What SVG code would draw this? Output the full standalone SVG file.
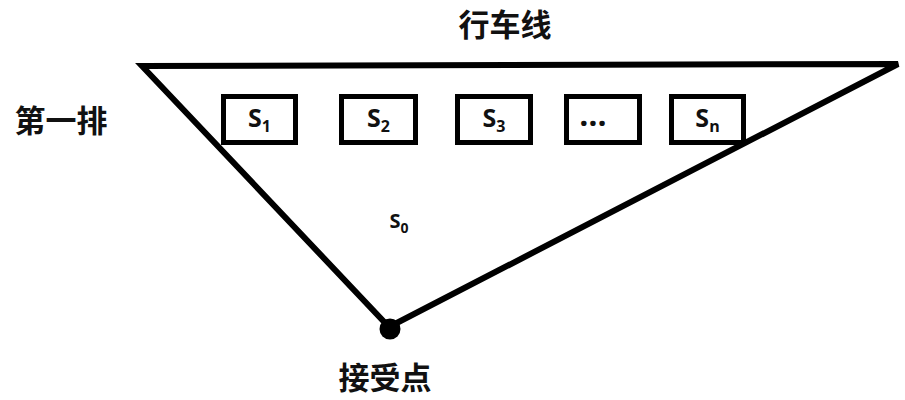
<svg xmlns="http://www.w3.org/2000/svg" width="905" height="400" viewBox="0 0 905 400">
<style>
.cjk{font-family:"Noto Sans CJK SC","Noto Sans CJK JP",sans-serif;font-weight:bold;font-size:31px;fill:#111}
.lbl{font-family:"Open Sans","Liberation Sans",sans-serif;font-weight:bold;fill:#111}
.box{fill:#fff;stroke:#000;stroke-width:5}
.edge{fill:none;stroke:#000;stroke-width:6;stroke-linejoin:miter}
</style>
<rect width="905" height="400" fill="#fff"/>
<g id="connectors">
<polygon class="edge" points="142,66 898,64 389,327"/>
</g>
<g id="receiver">
<circle cx="390" cy="329" r="10.5" fill="#000"/>
<text class="cjk" x="385" y="389" text-anchor="middle">接受点</text>
</g>
<g id="road-label">
<text class="cjk" x="505" y="36" text-anchor="middle">行车线</text>
</g>
<g id="row-label">
<text class="cjk" x="61" y="132" text-anchor="middle">第一排</text>
</g>
<g id="s1">
<rect class="box" x="223.5" y="96.5" width="72" height="46"/>
<text class="lbl" x="259.5" y="127" text-anchor="middle" font-size="25">S<tspan font-size="16" dy="5">1</tspan></text>
</g>
<g id="s2">
<rect class="box" x="341.5" y="96.5" width="74" height="46"/>
<text class="lbl" x="378.5" y="127" text-anchor="middle" font-size="25">S<tspan font-size="16" dy="5">2</tspan></text>
</g>
<g id="s3">
<rect class="box" x="457.5" y="96.5" width="73" height="46"/>
<text class="lbl" x="494" y="127" text-anchor="middle" font-size="25">S<tspan font-size="16" dy="5">3</tspan></text>
</g>
<g id="sdots">
<rect class="box" x="566.5" y="96.5" width="73" height="46"/>
<text class="lbl" x="593" y="126" text-anchor="middle" font-size="32">…</text>
</g>
<g id="sn">
<rect class="box" x="671.5" y="96.5" width="72" height="46"/>
<text class="lbl" x="707.5" y="127" text-anchor="middle" font-size="25">S<tspan font-size="16" dy="5">n</tspan></text>
</g>
<g id="s0">
<text class="lbl" x="399" y="228" text-anchor="middle" font-size="20">S<tspan font-size="14" dy="5">0</tspan></text>
</g>
</svg>
